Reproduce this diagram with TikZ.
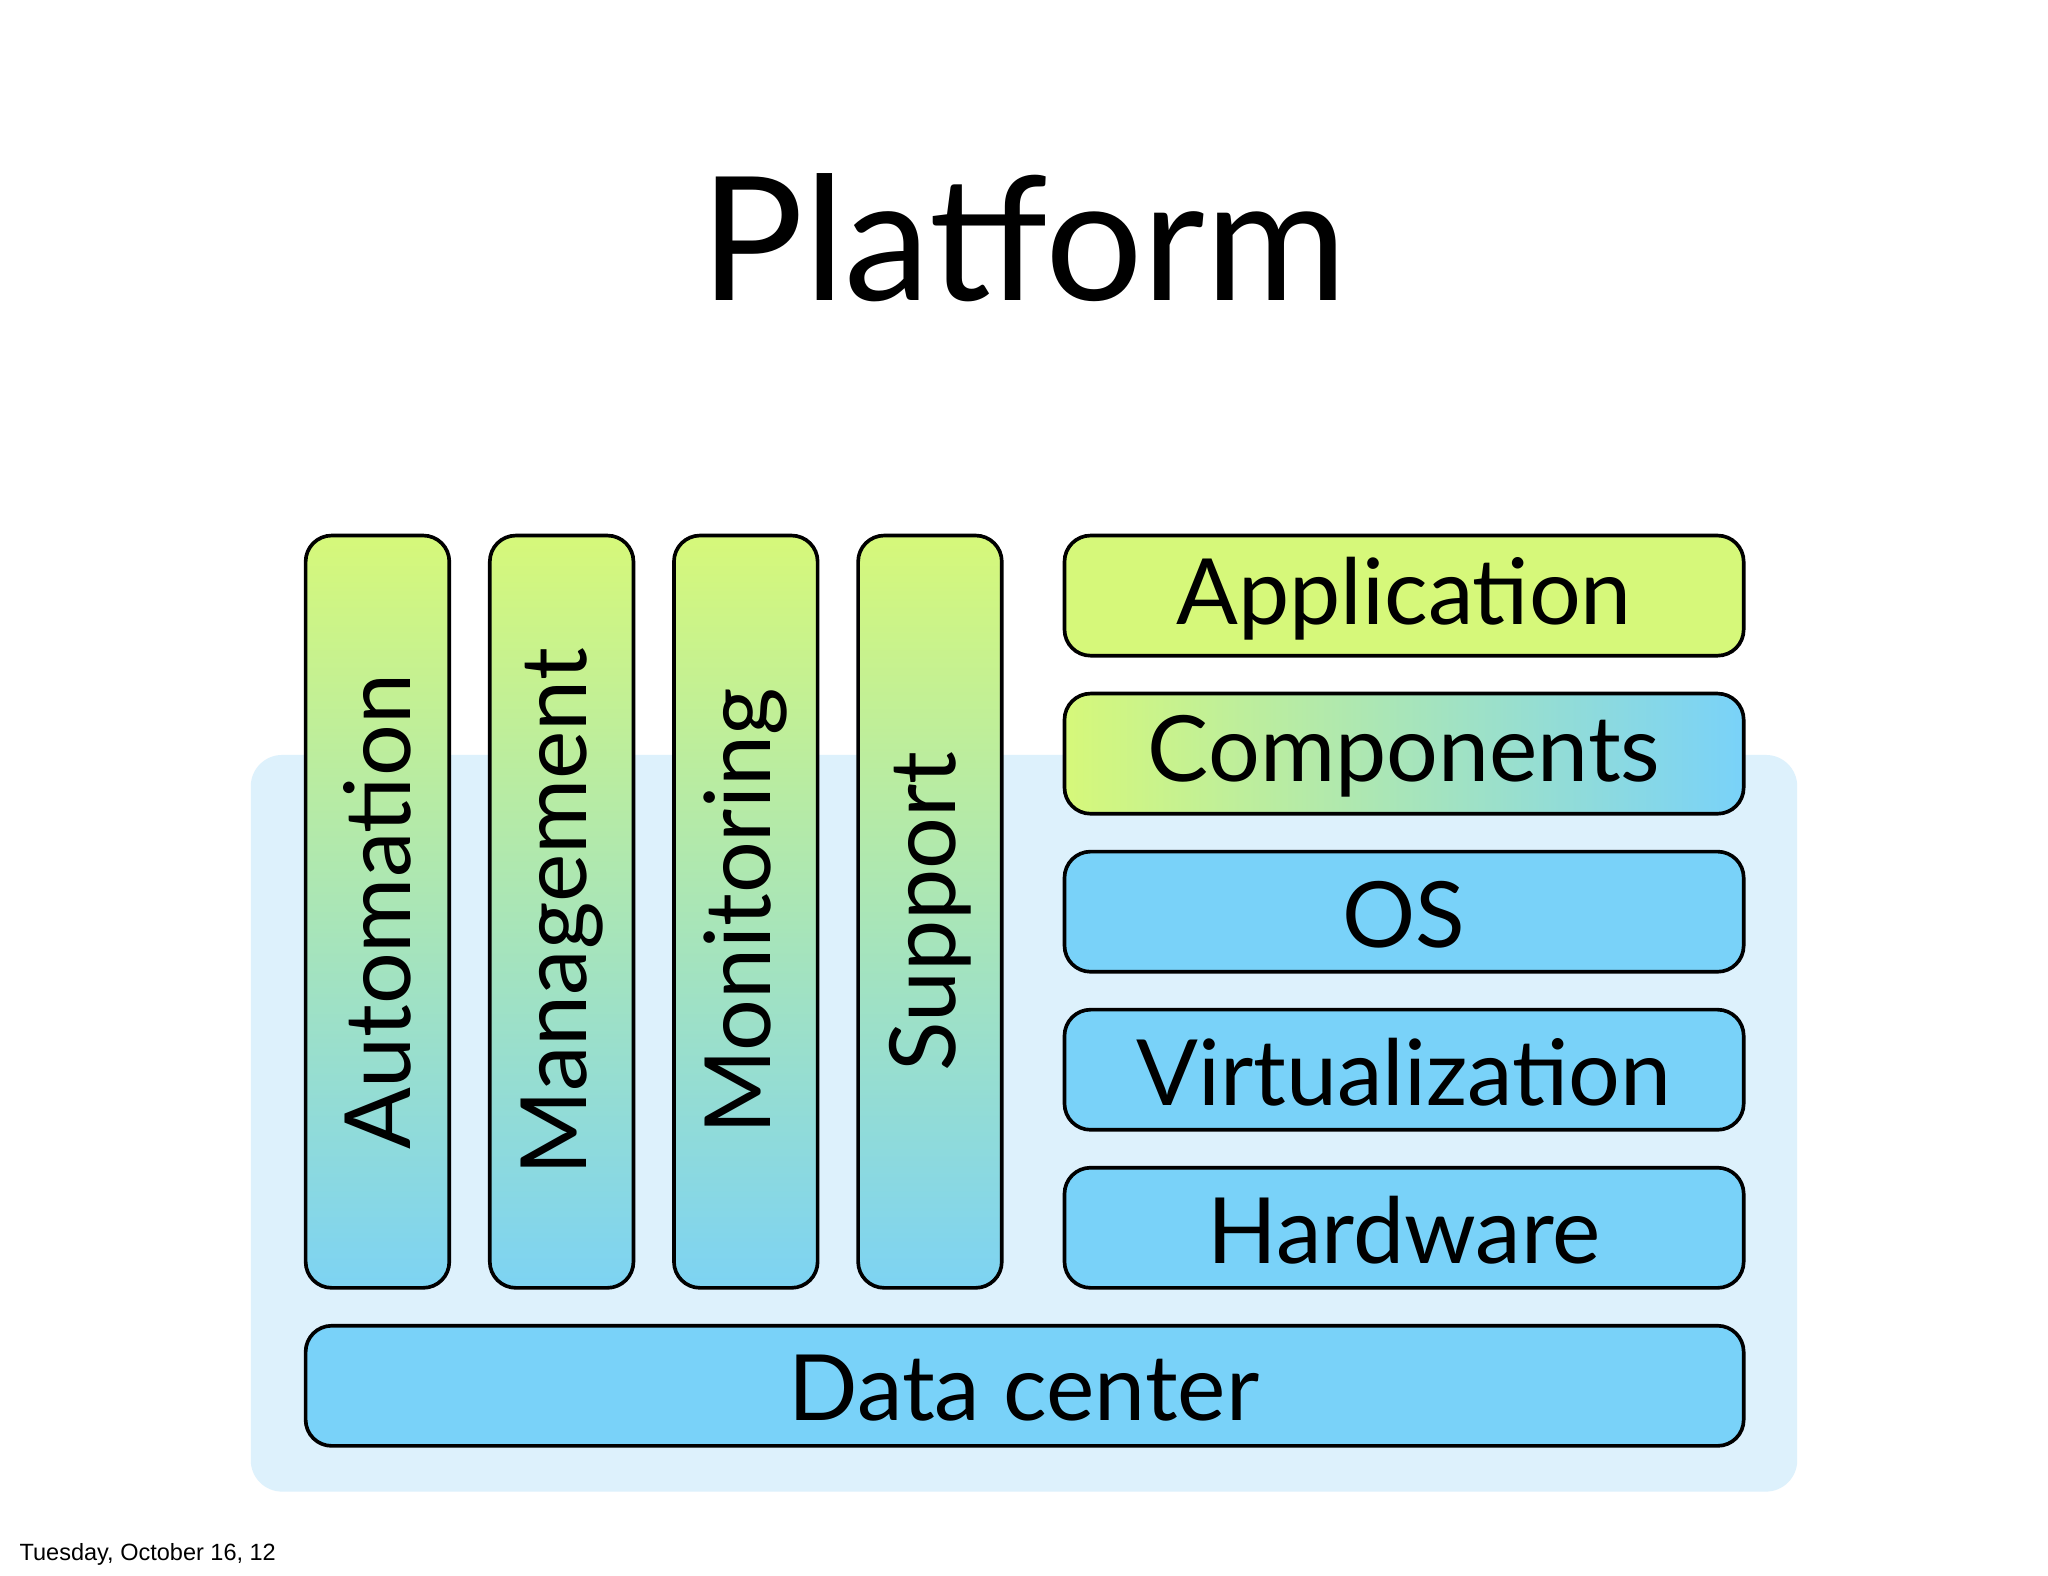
\documentclass[tikz,border=0pt]{standalone}
\usepackage{fontspec}
\setmainfont{Lato}
\newfontfamily\foot{Liberation Sans}
\begin{document}
\begin{tikzpicture}[x=0.5pt,y=-0.5pt,
  bar/.style={draw=black,line width=1.4pt,rounded corners=10pt},
  vbar/.style={bar,top color=vgreen,bottom color=vblue},
  hbox/.style={bar,fill=hblue},
  lbl/.style={font=\fontsize{35}{40}\selectfont,text=black}]
\definecolor{vgreen}{HTML}{D6F87A}
\definecolor{vblue}{HTML}{7DD3F3}
\definecolor{hblue}{HTML}{79D2F9}
\definecolor{bgblue}{HTML}{DDF1FC}
\useasboundingbox (0,0) rectangle (1568,1206);
\fill[white] (0,0) rectangle (1568,1206);
\node[font=\fontsize{66}{70}\selectfont] (title) at (784,182) {Platform};
\fill[bgblue,rounded corners=12pt] (192,578) rectangle (1376,1142);
\foreach \x/\t/\n in {234/Automation/a,375/Management/m,516/Monitoring/mo,657/Support/s}{
  \draw[vbar] (\x,410) rectangle ++(110,576);
  \node[lbl,rotate=90] (\n) at (\x+55,698) {\t};
}
\draw[bar,fill=vgreen] (815,410) rectangle (1335,502);
\node[lbl] (app) at (1075,458) {Application};
\draw[bar,left color=vgreen,right color=hblue] (815,531) rectangle (1335,623);
\node[lbl] (comp) at (1075,579) {Components};
\draw[hbox] (815,652) rectangle (1335,744);
\node[lbl] (os) at (1075,700) {OS};
\draw[hbox] (815,773) rectangle (1335,865);
\node[lbl] (virt) at (1075,821) {Virtualization};
\draw[hbox] (815,894) rectangle (1335,986);
\node[lbl] (hw) at (1075,942) {Hardware};
\draw[hbox] (234,1015) rectangle (1335,1107);
\node[lbl] (dc) at (784,1063) {Data center};
\node[font=\foot\fontsize{9}{11}\selectfont,anchor=west] (date) at (8,1190) {Tuesday, October 16, 12};
\end{tikzpicture}
\end{document}
